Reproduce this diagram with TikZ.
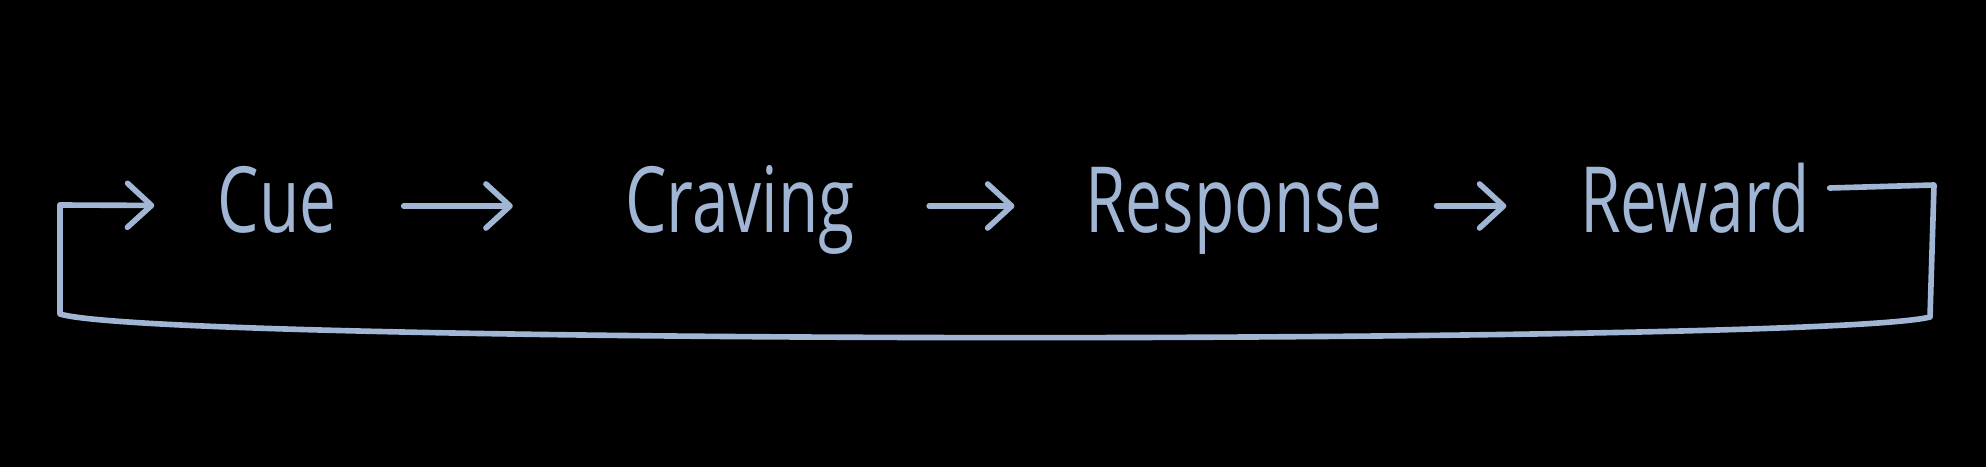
\documentclass[tikz,border=0pt]{standalone}
\usepackage{fontspec}
\setmainfont{Open Sans}[FakeStretch=0.72]
\usepackage{xcolor}
\usetikzlibrary{arrows.meta}
\definecolor{chalk}{RGB}{160,182,212}

\begin{document}
\begin{tikzpicture}[
      stage/.style={text=chalk, font=\fontsize{26}{30}\selectfont, inner sep=0pt, anchor=base, text height=0.67cm, text depth=0.15cm},
      wire/.style={draw=chalk, line width=1.6pt, line cap=round, line join=round},
      arr/.style={wire, -{Straight Barb[length=2.4mm, width=4.4mm, round]}}
    ]
    \fill[black] (0,0) rectangle (19.86,4.67);

    % Stages
    \node[stage, minimum width=1.30cm] (cue) at (2.77,2.35) {Cue};
    \node[stage, minimum width=2.43cm] (craving) at (7.40,2.35) {Craving};
    \node[stage, minimum width=2.76cm] (response) at (12.34,2.35) {Response};
    \node[stage, minimum width=2.19cm] (reward) at (16.95,2.35) {Reward};

    % Arrows between stages
    \draw[arr, shorten <=0.61cm, shorten >=1.05cm] (cue) -- (craving);
    \draw[arr, shorten <=0.67cm, shorten >=0.70cm] (craving) -- (response);
    \draw[arr, shorten <=0.53cm, shorten >=0.73cm] (response) -- (reward);

    % Loop back
    \coordinate (tr) at (19.34,2.82);
    \coordinate (br) at (19.30,1.50);
    \coordinate (bl) at (0.60,1.53);
    \coordinate (tl) at (0.60,2.62);
    \draw[wire] ([shift={(0.19,0.18)}]reward.east) -- (tr) -- (br)
      .. controls (18.2,1.22) and (1.6,1.22) .. (bl) -- (tl);
    \draw[arr, shorten >=0.57cm] (tl) -- (cue);
  \end{tikzpicture}
\end{document}
